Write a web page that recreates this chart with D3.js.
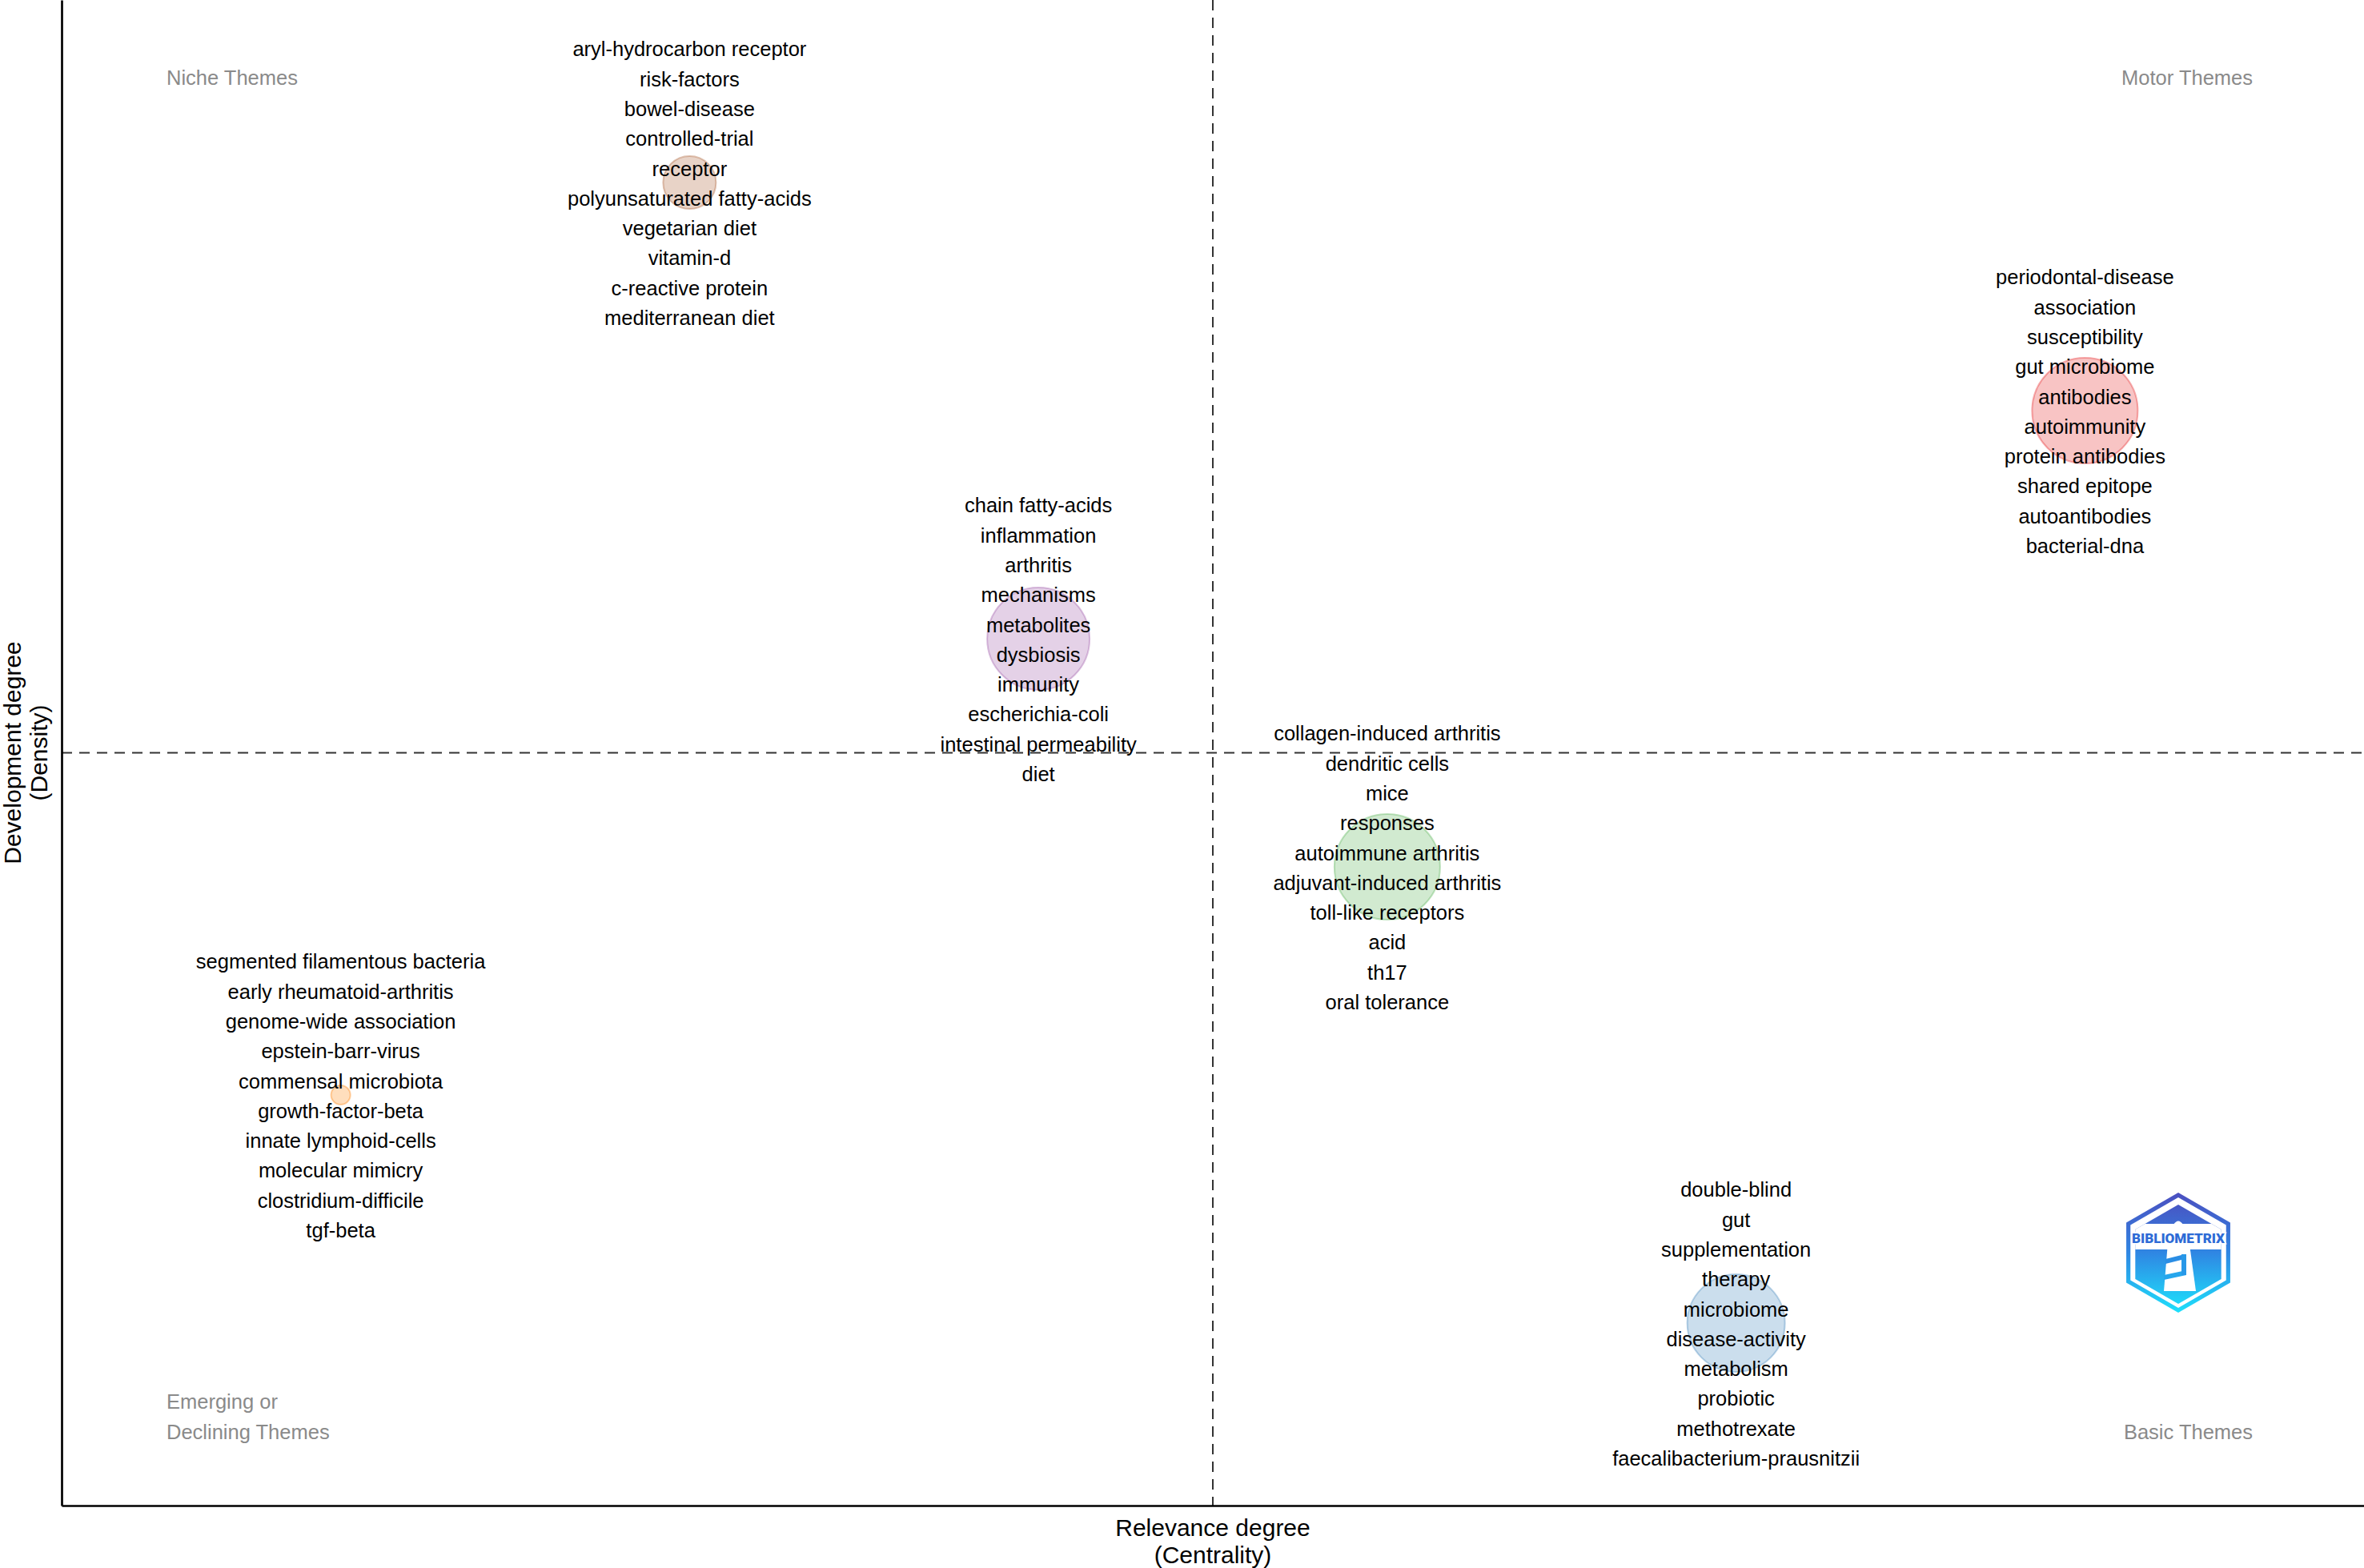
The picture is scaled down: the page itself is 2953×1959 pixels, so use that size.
<!DOCTYPE html>
<html>
<head>
<meta charset="utf-8">
<script src="https://cdn.jsdelivr.net/npm/d3@7"></script>
<style>
  html, body { margin: 0; padding: 0; background: #ffffff; }
  svg { display: block; }
</style>
</head>
<body>
<div id="chart"></div>
<script>
// ---------------- DATA ----------------
const clusterIds   = ["c1", "c2", "c3", "c4", "c5", "c6"];
const clusterColors = ["#E41A1C", "#377EB8", "#4DAF4A", "#984EA3", "#FF7F00", "#A65628"];
const centrality   = [6, 5, 4, 3, 1, 2];   // rank centrality
const density      = [5, 1, 3, 4, 2, 6];   // rank density
const frequency    = [300, 256, 300, 282, 10, 75];

const words1 = ["periodontal-disease", "association", "susceptibility", "gut microbiome", "antibodies",
                "autoimmunity", "protein antibodies", "shared epitope", "autoantibodies", "bacterial-dna"];
const words2 = ["double-blind", "gut", "supplementation", "therapy", "microbiome",
                "disease-activity", "metabolism", "probiotic", "methotrexate", "faecalibacterium-prausnitzii"];
const words3 = ["collagen-induced arthritis", "dendritic cells", "mice", "responses", "autoimmune arthritis",
                "adjuvant-induced arthritis", "toll-like receptors", "acid", "th17", "oral tolerance"];
const words4 = ["chain fatty-acids", "inflammation", "arthritis", "mechanisms", "metabolites",
                "dysbiosis", "immunity", "escherichia-coli", "intestinal permeability", "diet"];
const words5 = ["segmented filamentous bacteria", "early rheumatoid-arthritis", "genome-wide association",
                "epstein-barr-virus", "commensal microbiota", "growth-factor-beta", "innate lymphoid-cells",
                "molecular mimicry", "clostridium-difficile", "tgf-beta"];
const words6 = ["aryl-hydrocarbon receptor", "risk-factors", "bowel-disease", "controlled-trial", "receptor",
                "polyunsaturated fatty-acids", "vegetarian diet", "vitamin-d", "c-reactive protein", "mediterranean diet"];
const clusterWords = [words1, words2, words3, words4, words5, words6];

const quadrantLabels = ["Niche Themes", "Motor Themes", "Emerging or", "Declining Themes", "Basic Themes"];
const xTitle = ["Relevance degree", "(Centrality)"];
const yTitle = ["Development degree", "(Density)"];

// ---------------- LAYOUT ----------------
const W = 2953, H = 1959;
const plot = { left: 77, right: 2953, top: 0, bottom: 1881 };
const FONT = "'Liberation Sans', Arial, Helvetica, sans-serif";
const labelSize = 25.5;
const lineGap = 37.3;

const data = clusterIds.map((id, i) => ({
  id, color: clusterColors[i], cx: centrality[i], dy: density[i], freq: frequency[i], words: clusterWords[i]
}));

const x = d3.scaleLinear().domain([0.2, 6.8]).range([plot.left, plot.right]);
const y = d3.scaleLinear().domain([0.2, 6.8]).range([plot.bottom, plot.top]);
const r = d3.scaleSqrt().domain([0, d3.max(frequency)]).range([0, 66]);

const svg = d3.select("#chart").append("svg")
  .attr("width", W).attr("height", H)
  .attr("viewBox", `0 0 ${W} ${H}`)
  .style("font-family", FONT);

svg.append("rect").attr("width", W).attr("height", H).attr("fill", "#fff");

// dashed mean lines
const xMid = d3.mean(centrality), yMid = d3.mean(density);
svg.append("line")
  .attr("x1", x(xMid)).attr("x2", x(xMid)).attr("y1", plot.top).attr("y2", plot.bottom)
  .attr("stroke", "#333").attr("stroke-width", 2).attr("stroke-dasharray", "13,9");
svg.append("line")
  .attr("x1", plot.left).attr("x2", plot.right).attr("y1", y(yMid)).attr("y2", y(yMid))
  .attr("stroke", "#333").attr("stroke-width", 2).attr("stroke-dasharray", "13,9");

// axes (no ticks)
const xAxis = svg.append("g").attr("transform", `translate(0,${plot.bottom})`)
  .call(d3.axisBottom(x).tickValues([]).tickSizeOuter(0));
const yAxis = svg.append("g").attr("transform", `translate(${plot.left},0)`)
  .call(d3.axisLeft(y).tickValues([]).tickSizeOuter(0));
[xAxis, yAxis].forEach(g => g.select(".domain").attr("stroke", "#000").attr("stroke-width", 2.7));

// bubbles
svg.append("g").selectAll("circle").data(data).join("circle")
  .attr("cx", d => x(d.cx)).attr("cy", d => y(d.dy)).attr("r", d => r(d.freq))
  .attr("fill", d => d.color).attr("fill-opacity", 0.26)
  .attr("stroke", d => d.color).attr("stroke-opacity", 0.35).attr("stroke-width", 2);

// word labels
const lab = svg.append("g").attr("font-size", labelSize).attr("fill", "#000").attr("text-anchor", "middle");
data.forEach(d => {
  const n = d.words.length;
  lab.selectAll(null).data(d.words).join("text")
    .attr("x", x(d.cx))
    .attr("y", (w, i) => y(d.dy) + (i - (n - 1) / 2) * lineGap + 0.4 * labelSize)
    .text(w => w);
});

// quadrant labels
const q = svg.append("g").attr("font-size", labelSize).attr("fill", "#8a8a8a");
q.append("text").attr("x", 208).attr("y", 106).text(quadrantLabels[0]);
q.append("text").attr("x", 2814).attr("y", 106).attr("text-anchor", "end").text(quadrantLabels[1]);
q.append("text").attr("x", 208).attr("y", 1759.5).text(quadrantLabels[2]);
q.append("text").attr("x", 208).attr("y", 1797.5).text(quadrantLabels[3]);
q.append("text").attr("x", 2814).attr("y", 1797.5).attr("text-anchor", "end").text(quadrantLabels[4]);

// axis titles
const titleSize = 30;
const xt = svg.append("g").attr("font-size", titleSize).attr("fill", "#000").attr("text-anchor", "middle");
xt.selectAll("text").data(xTitle).join("text")
  .attr("x", (plot.left + plot.right) / 2)
  .attr("y", (t, i) => 1919 + i * 33.5)
  .text(t => t);
const yt = svg.append("g").attr("font-size", titleSize).attr("fill", "#000").attr("text-anchor", "middle");
yt.selectAll("text").data(yTitle).join("text")
  .attr("transform", (t, i) => `translate(${26 + i * 33},${(plot.top + plot.bottom) / 2}) rotate(-90)`)
  .text(t => t);

// ---------------- LOGO ----------------
const lg = { cx: 2721, cy: 1565 };
function hex(cx, cy, R) {
  return d3.range(6).map(k => {
    const a = (-90 + 60 * k) * Math.PI / 180;
    return [cx + R * Math.cos(a), cy + R * Math.sin(a)];
  });
}
const defs = svg.append("defs");
const grad = defs.append("linearGradient").attr("id", "logoGrad")
  .attr("x1", 0).attr("y1", 0).attr("x2", 0).attr("y2", 1);
grad.append("stop").attr("offset", "0%").attr("stop-color", "#4b4fc0");
grad.append("stop").attr("offset", "50%").attr("stop-color", "#2f86e3");
grad.append("stop").attr("offset", "100%").attr("stop-color", "#1ee0fb");
defs.append("clipPath").attr("id", "innerClip")
  .append("polygon").attr("points", hex(lg.cx, lg.cy + 2, 62).join(" "));

const logo = svg.append("g");
logo.append("polygon").attr("points", hex(lg.cx, lg.cy, 75).join(" ")).attr("fill", "url(#logoGrad)");
logo.append("polygon").attr("points", hex(lg.cx, lg.cy, 69).join(" ")).attr("fill", "#fff");
const inner = logo.append("g").attr("clip-path", "url(#innerClip)");
inner.append("rect").attr("x", lg.cx - 70).attr("y", lg.cy - 70).attr("width", 140).attr("height", 140)
  .attr("fill", "url(#logoGrad)");
// white band
inner.append("rect").attr("x", lg.cx - 70).attr("y", lg.cy - 36).attr("width", 140).attr("height", 32)
  .attr("fill", "#fff");
// lighthouse
inner.append("path")
  .attr("d", `M${lg.cx - 6},${lg.cy - 27} L${lg.cx - 6},${lg.cy - 35} Q${lg.cx},${lg.cy - 44} ${lg.cx + 6},${lg.cy - 35} L${lg.cx + 6},${lg.cy - 27} Z`)
  .attr("fill", "#fff");
inner.append("path")
  .attr("d", `M${lg.cx - 12},${lg.cy - 25} L${lg.cx + 12},${lg.cy - 25} L${lg.cx + 22},${lg.cy + 48} L${lg.cx - 18},${lg.cy + 48} Z`)
  .attr("fill", "#fff");
// stripes on tower
inner.append("path")
  .attr("d", `M${lg.cx - 16},${lg.cy + 8} L${lg.cx + 8},${lg.cy + 2} L${lg.cx + 8},${lg.cy + 8} L${lg.cx - 16},${lg.cy + 14} Z`)
  .attr("fill", "#2a8de4");
inner.append("path")
  .attr("d", `M${lg.cx - 18},${lg.cy + 28} L${lg.cx + 10},${lg.cy + 22} L${lg.cx + 10},${lg.cy + 28} L${lg.cx - 18},${lg.cy + 34} Z`)
  .attr("fill", "#26a6ec");
inner.append("rect").attr("x", lg.cx + 4).attr("y", lg.cy + 2).attr("width", 6).attr("height", 26).attr("fill", "#2898e8");
logo.append("text")
  .attr("x", lg.cx).attr("y", lg.cy - 12)
  .attr("text-anchor", "middle")
  .attr("font-family", "Roboto, 'DejaVu Sans', sans-serif")
  .attr("font-weight", 900).attr("font-size", 16)
  .attr("textLength", 116).attr("lengthAdjust", "spacingAndGlyphs")
  .attr("fill", "#2d6bd6").attr("stroke", "#fff").attr("stroke-width", 3)
  .attr("paint-order", "stroke")
  .text("BIBLIOMETRIX");
</script>
</body>
</html>
